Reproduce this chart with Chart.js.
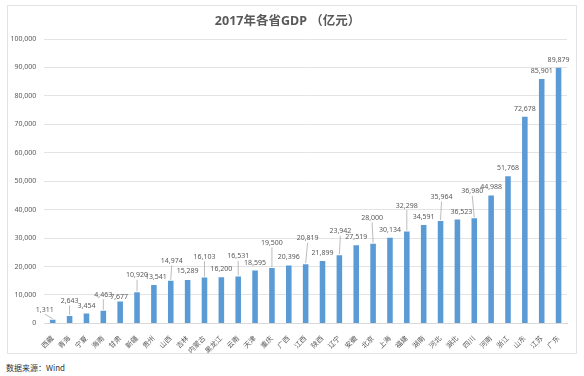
<!DOCTYPE html>
<html>
<head>
<meta charset="utf-8">
<script src="https://cdn.jsdelivr.net/npm/chart.js@4"></script>
<style>
  body { margin: 0; background: #fff; width: 584px; height: 376px; position: relative; overflow: hidden; }
  #frame { position: absolute; left: 7px; top: 5px; width: 568px; height: 347px; border: 1px solid #e3e3e3; }
  #foot { position: absolute; left: 6px; top: 362px; font: 8px 'Noto Sans CJK SC', sans-serif; color: #333; }
</style>
</head>
<body>
<div id="frame"><canvas id="gdpChart" width="568" height="347"></canvas></div>
<div id="foot">数据来源：Wind</div>
<script>
let provinces = ['西藏','青海','宁夏','海南','甘肃','新疆','贵州','山西','吉林','内蒙古','黑龙江','云南','天津','重庆','广西','江西','陕西','辽宁','安徽','北京','上海','福建','湖南','河北','湖北','四川','河南','浙江','山东','江苏','广东'];
let gdp = [1311,2643,3454,4463,7677,10920,13541,14974,15289,16103,16200,16531,18595,19500,20396,20819,21899,23942,27519,28000,30134,32298,34591,35964,36523,36980,44988,51768,72678,85901,89879];
let yMax = 100000;
let yStep = 10000;

// label placement tweaks (px), like the hand-moved labels in the original
let labelLift = [2,7,0,8,-3,9,0,12,1,13,0,12,0,17,0,18,0,16,0,18,0,18,0,16,0,19,0,0,0,0,0];
let labelShift = [-8,0,0,0,-1,0,2,1,0,0,0,0,0,0,0,2,0,1,0,-1,0,0,0,1,4,-2,0,0,0,0,0];

let fontStack = "'Noto Sans', 'Noto Sans CJK SC', sans-serif";

let valueLabels = {
    id: 'valueLabels',
    afterDatasetsDraw(chart) {
        let ctx = chart.ctx;
        let meta = chart.getDatasetMeta(0);
        ctx.save();
        ctx.font = '7px ' + fontStack;
        ctx.fillStyle = '#595959';
        ctx.textAlign = 'center';
        ctx.textBaseline = 'middle';
        meta.data.forEach((bar, i) => {
            let x = bar.x + labelShift[i];
            let y = bar.y - 8 - labelLift[i];
            if (labelLift[i] >= 5 || Math.abs(labelShift[i]) >= 5) {
                ctx.strokeStyle = '#a6a6a6';
                ctx.lineWidth = 0.75;
                ctx.beginPath();
                ctx.moveTo(x, y + 4.5);
                ctx.lineTo(bar.x, bar.y - 1);
                ctx.stroke();
            }
            ctx.fillText(gdp[i].toLocaleString('en-US'), x, y);
        });
        ctx.restore();
    }
};

let ctx1 = document.getElementById('gdpChart').getContext('2d');
let gdpChart = new Chart(ctx1, {
    type: 'bar',
    data: {
        labels: provinces,
        datasets: [{
            label: 'GDP',
            data: gdp,
            backgroundColor: '#5b9bd5',
            barPercentage: 0.33,
            categoryPercentage: 1
        }]
    },
    options: {
        responsive: false,
        animation: false,
        devicePixelRatio: 1,
        layout: { padding: { top: 0, right: 9, bottom: 0, left: 0 } },
        plugins: {
            legend: { display: false },
            tooltip: { enabled: false },
            title: {
                display: true,
                text: '2017年各省GDP （亿元）',
                color: '#595959',
                font: { family: fontStack, size: 12.5, weight: 'bold' },
                padding: { top: 8, bottom: 10 }
            }
        },
        scales: {
            x: {
                grid: { display: false },
                border: { color: '#d9d9d9' },
                ticks: {
                    color: '#595959',
                    font: { family: fontStack, size: 7 },
                    minRotation: 45,
                    maxRotation: 45,
                    padding: 3
                },
                afterFit(scale) { scale.height = 29.6; }
            },
            y: {
                min: 0,
                max: yMax,
                grid: { color: '#e3e3e3', drawTicks: false },
                border: { display: false },
                ticks: {
                    stepSize: yStep,
                    color: '#595959',
                    padding: 8,
                    font: { family: fontStack, size: 7 },
                    callback: v => v.toLocaleString('en-US')
                },
                afterFit(scale) { scale.width = 36.3; }
            }
        }
    },
    plugins: [valueLabels]
});
</script>
</body>
</html>
